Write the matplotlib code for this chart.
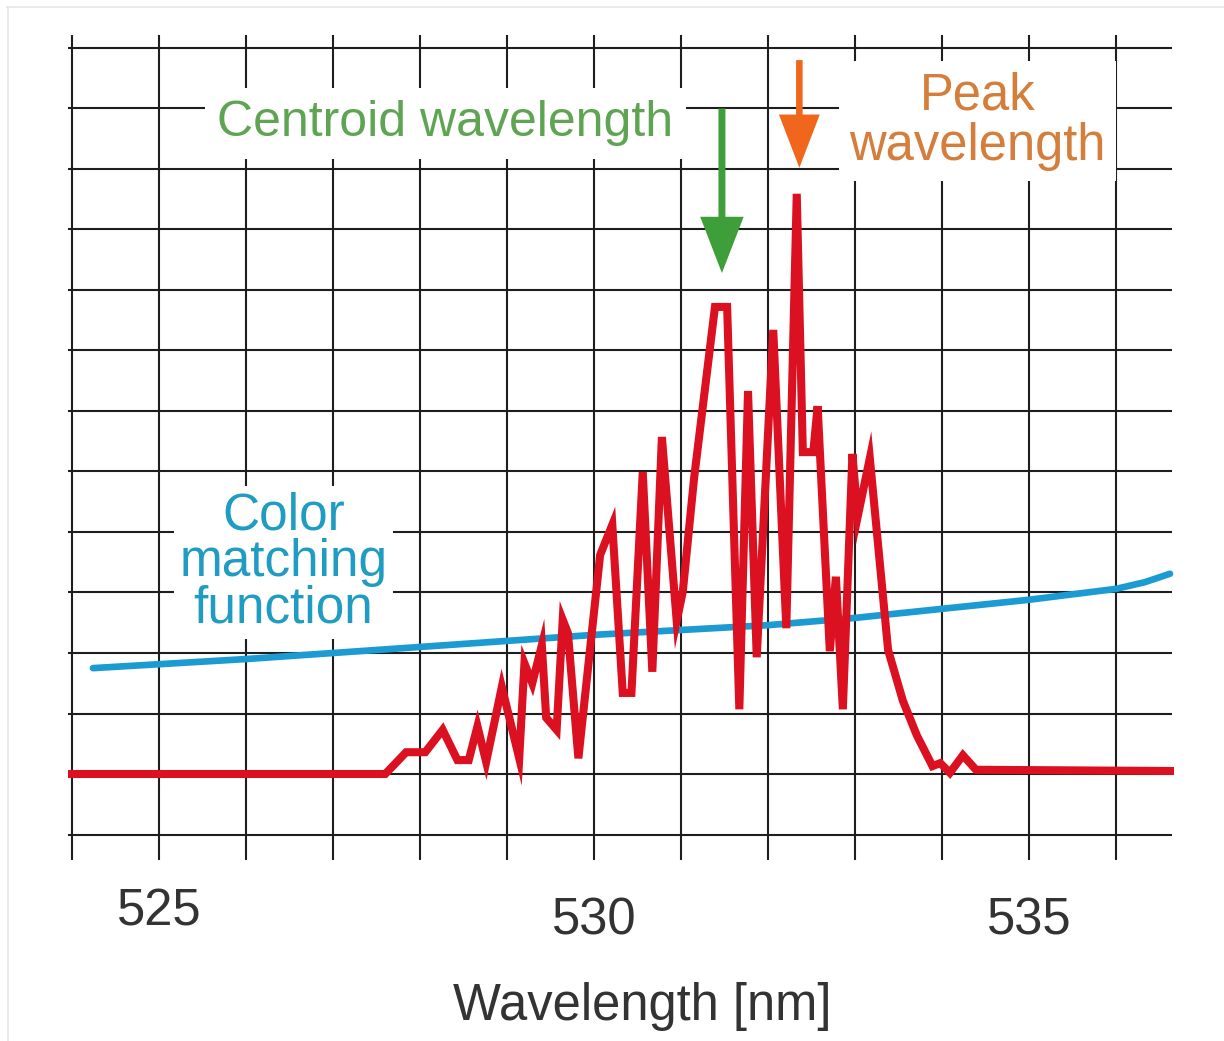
import numpy as np
import matplotlib
matplotlib.use('Agg')
import matplotlib.pyplot as plt

plt.rcParams['font.family'] = ['Liberation Sans', 'DejaVu Sans']

# spectrum of the light source (red)
wl = [524.00, 527.60, 527.84, 528.06, 528.26, 528.43, 528.56, 528.66, 528.76, 528.94,
      529.14, 529.20, 529.29, 529.40, 529.45, 529.57, 529.64, 529.70, 529.82, 530.07,
      530.21, 530.33, 530.43, 530.56, 530.67, 530.78, 530.95, 531.02, 531.15, 531.39,
      531.53, 531.67, 531.77, 531.87, 532.06, 532.21, 532.33, 532.40, 532.52, 532.57,
      532.71, 532.78, 532.86, 532.97, 533.03, 533.17, 533.38, 533.55, 533.71, 533.89,
      533.98, 534.09, 534.24, 534.39, 536.62]
spectrum = [0, 0, 0.36, 0.36, 0.73, 0.23, 0.23, 0.79, 0.20, 1.44,
            0.26, 1.83, 1.50, 2.13, 0.93, 0.73, 2.55, 2.33, 0.26, 3.62,
            4.12, 1.34, 1.34, 4.99, 1.69, 5.57, 2.53, 3.01, 4.89, 7.72,
            7.72, 1.07, 6.33, 1.93, 7.34, 2.41, 9.59, 5.32, 5.32, 6.08,
            2.03, 3.26, 1.07, 5.29, 4.25, 5.22, 2.05, 1.21, 0.64, 0.13,
            0.18, 0.02, 0.31, 0.07, 0.05]

# color matching function (blue)
cmf_wl = [524.24, 526.0, 528.0, 530.0, 532.0, 533.0, 534.0, 535.0, 536.0, 536.33, 536.62]
cmf = [1.75, 1.90, 2.10, 2.30, 2.46, 2.58, 2.73, 2.88, 3.06, 3.17, 3.31]

centroid_nm = 531.47
tick_values = [525, 530, 535]
tick_labels = ['525', '530', '535']

RED = '#db1020'
BLUE = '#1c9bd3'
GRID = '#1e1e1e'

fig = plt.figure(figsize=(12.24, 10.41), dpi=100)
ax = fig.add_axes([0, 0, 1, 1])
ax.set_xlim(523.172, 537.241)
ax.set_ylim(-4.413, 12.793)
ax.axis('off')

# faint frame of the original picture (top and left edges only)
fig.add_artist(plt.Line2D([7 / 1224, 1], [1 - 7 / 1041] * 2, color='#e6e6e6', lw=1.2))
fig.add_artist(plt.Line2D([8 / 1224] * 2, [0, 1 - 7 / 1041], color='#e6e6e6', lw=1.2))

# grid drawn by hand, with the little overhangs
ax.vlines(np.arange(524, 537), -1.42, 12.21, color=GRID, lw=1.5, zorder=1)
ax.hlines(np.arange(-1, 13), 523.954, 536.644, color=GRID, lw=1.5, zorder=1)

ax.plot(cmf_wl, cmf, color=BLUE, lw=4.8, solid_capstyle='round', zorder=3)
ax.plot(wl, spectrum, color=RED, lw=5.8, solid_joinstyle='miter', zorder=4)

# tick labels and axis title
label_y = [-2.28, -2.43, -2.43]
for v, s, yy in zip(tick_values, tick_labels, label_y):
    ax.text(v, yy, s, fontsize=36.5, color='#333333', ha='center', va='center')
ax.text(530.55, -3.85, 'Wavelength [nm]', fontsize=36.5, color='#333333',
        ha='center', va='center')

# annotations with white boxes hiding the grid
ax.text(528.29, 10.76, 'Centroid wavelength', fontsize=36, color='#5fa452',
        ha='center', va='center', zorder=2,
        bbox=dict(boxstyle='square,pad=0.25', fc='white', ec='none'))
ax.text(534.41, 10.79, 'Peak\nwavelength', fontsize=36.5, color='#d57d3a',
        ha='center', va='center', linespacing=1.03, zorder=2,
        bbox=dict(boxstyle='square,pad=0.2', fc='white', ec='none'))
ax.text(526.43, 3.50, 'Color\nmatching\nfunction', fontsize=37, color='#1f9cc2',
        ha='center', va='center', linespacing=0.94, zorder=2,
        bbox=dict(boxstyle='square,pad=0.1', fc='white', ec='none'))

peak_nm = wl[int(np.argmax(spectrum))]
ax.arrow(centroid_nm, 11.0, 0, -2.72, width=0.08, head_width=0.5, head_length=0.93,
         length_includes_head=True, color='#3e9e3a', lw=0, zorder=5)
ax.arrow(peak_nm + 0.03, 11.80, 0, -1.78, width=0.075, head_width=0.47, head_length=0.88,
         length_includes_head=True, color='#f0661c', lw=0, zorder=5)

fig.savefig('out.png', dpi=100, facecolor='white')
